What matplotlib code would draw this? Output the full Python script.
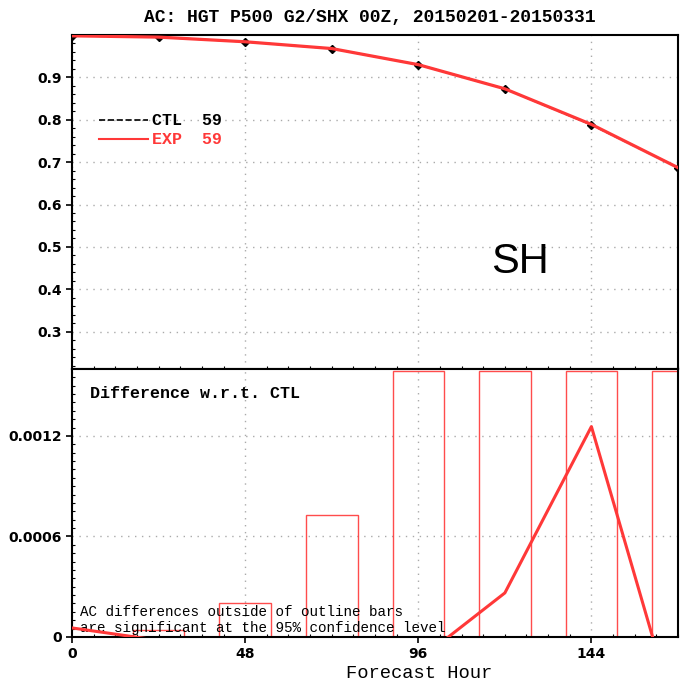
import matplotlib
matplotlib.use('Agg')
import matplotlib.pyplot as plt
import numpy as np

# forecast hours and anomaly correlation, 500 hPa height, SH
hours = [0, 24, 48, 72, 96, 120, 144, 168]
ctl_ac = [0.998, 0.995, 0.984, 0.968, 0.930, 0.873, 0.788, 0.687]
exp_ac = [0.998, 0.995, 0.984, 0.968, 0.930, 0.873, 0.789, 0.687]

# EXP - CTL and the 95% significance half-widths (tall ones capped at panel top)
diff = [0.000054, -0.00002, -0.0002, -0.0003, -0.00014, 0.000263, 0.001256, -0.00052]
sig_bar = [0.0, 0.00004, 0.0002, 0.000726, 0.00159, 0.00159, 0.00159, 0.00159]
bar_width = 14.3

red = '#ff3838'
mono = 'Liberation Mono'

fig = plt.figure(figsize=(6.8, 6.82), dpi=100)
ax1 = fig.add_axes([0.106, 0.459, 0.891, 0.4897])
ax2 = fig.add_axes([0.106, 0.066, 0.891, 0.393], sharex=ax1)

for ax in (ax1, ax2):
    for s in ax.spines.values():
        s.set_linewidth(1.5)
    ax.grid(True, color='#aaaaaa', linestyle=(0, (1, 4)), linewidth=1)
    ax.tick_params(which='major', direction='out', length=4, width=1.2,
                   labelsize=10)
    ax.tick_params(which='minor', direction='in', length=2, width=0.8)

# upper panel: AC curves
ax1.plot(hours, ctl_ac, color='black', linestyle='--', linewidth=1.2,
         marker='D', markersize=4.5, zorder=3)
ax1.plot(hours, exp_ac, color=red, linewidth=2.3, zorder=4)
ax1.set_xlim(0, 168)
ax1.set_ylim(0.212, 1.0)
ax1.set_yticks([0.3, 0.4, 0.5, 0.6, 0.7, 0.8, 0.9])
ax1.set_yticks(np.arange(0.22, 1.0, 0.02), minor=True)
ax1.set_xticks([0, 48, 96, 144])
ax1.set_xticks(np.arange(0, 169, 6), minor=True)
ax1.tick_params(axis='x', labelbottom=False)
for lab in ax1.get_yticklabels():
    lab.set_fontweight('bold')

ax1.plot([0.045, 0.125], [0.745, 0.745], transform=ax1.transAxes,
         color='black', linestyle='--', linewidth=1.2)
ax1.plot([0.045, 0.125], [0.688, 0.688], transform=ax1.transAxes,
         color=red, linewidth=1.5)
ax1.text(0.132, 0.745, 'CTL  59', transform=ax1.transAxes, va='center',
         family=mono, fontweight='bold', fontsize=12, color='black')
ax1.text(0.132, 0.688, 'EXP  59', transform=ax1.transAxes, va='center',
         family=mono, fontweight='bold', fontsize=12, color=red)
ax1.text(0.74, 0.32, 'SH', transform=ax1.transAxes, ha='center',
         va='center', family='Liberation Sans', fontsize=30)

# lower panel: difference with significance outline bars
ax2.bar(hours, sig_bar, width=bar_width, bottom=0, fill=False,
        edgecolor=red, linewidth=1.0, alpha=0.9, zorder=2)
ax2.plot(hours, diff, color=red, linewidth=2.2, zorder=4)
ax2.set_ylim(0, 0.0016)
ax2.set_yticks([0, 0.0006, 0.0012])
ax2.set_yticklabels(['0', '0.0006', '0.0012'])
ax2.set_yticks(np.arange(0, 0.0016, 0.00005), minor=True)
ax2.set_xticks([0, 48, 96, 144])
ax2.set_xticklabels(['0', '48', '96', '144'])
for lab in ax2.get_yticklabels() + ax2.get_xticklabels():
    lab.set_fontweight('bold')
ax2.set_xlim(0, 168)

ax2.text(0.03, 0.91, 'Difference w.r.t. CTL', transform=ax2.transAxes,
         family=mono, fontweight='bold', fontsize=12, va='center')
ax2.text(0.013, 0.095, 'AC differences outside of outline bars',
         transform=ax2.transAxes, family=mono, fontsize=10.3, va='center')
ax2.text(0.013, 0.035, 'are significant at the 95% confidence level',
         transform=ax2.transAxes, family=mono, fontsize=10.3, va='center')

fig.text(0.544, 0.975, 'AC: HGT P500 G2/SHX 00Z, 20150201-20150331',
         ha='center', va='center', family=mono, fontweight='bold',
         fontsize=13)
fig.text(0.617, 0.013, 'Forecast Hour', ha='center', va='center',
         family=mono, fontsize=13.5)

fig.savefig('out.png', dpi=100)
